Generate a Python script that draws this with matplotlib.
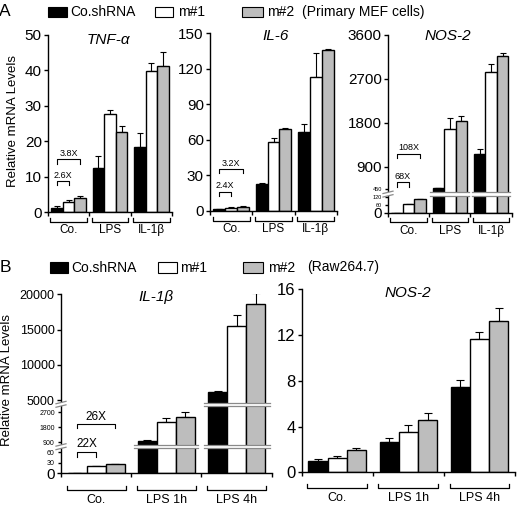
import numpy as np
import matplotlib
matplotlib.use('Agg')
import matplotlib.pyplot as plt
from matplotlib.patches import Rectangle

plt.rcParams['font.family'] = ['Liberation Sans', 'DejaVu Sans']

# ---- data (rows = series, columns = groups) ----
series = ["Co.shRNA", "m#1", "m#2"]
colors = ["black", "white", "#bdbdbd"]

groups_a = ["Co.", "LPS", "IL-1β"]
tnf = [[1.1, 12.4, 18.4], [2.8, 27.8, 39.8], [4.0, 22.5, 41.2]]
tnf_err = [[0.5, 3.4, 4.0], [0.5, 0.9, 2.2], [0.6, 1.7, 4.1]]
il6 = [[1.4, 22.8, 66.4], [2.8, 58.0, 112.9], [3.4, 69.2, 135.9]]
il6_err = [[0.3, 1.1, 6.8], [0.4, 3.9, 20.8], [0.4, 0.8, 0.9]]
nos2_a = [[1, 457, 1154], [68, 1666, 2850], [108, 1830, 3170]]
nos2_a_err = [[0, 12, 108], [0, 225, 150], [0, 110, 55]]

groups_b = ["Co.", "LPS 1h", "LPS 4h"]
il1b = [[1, 1000, 6200], [22, 2136, 15560], [26, 2436, 18630]]
il1b_err = [[0, 20, 120], [0, 200, 1500], [0, 265, 1500]]
nos2_b = [[1.02, 2.65, 7.46], [1.22, 3.56, 11.66], [1.92, 4.55, 13.2]]
nos2_b_err = [[0.12, 0.35, 0.59], [0.18, 0.54, 0.64], [0.18, 0.65, 1.2]]

W, H = 520, 507
fig = plt.figure(figsize=(W / 100, H / 100), dpi=100)


def ftext(x, y, s, **kw):
    fig.text(x / W, 1 - y / H, s, **kw)


def add_ax(x0, x1, ytop, ybot):
    ax = fig.add_axes([x0 / W, 1 - ybot / H, (x1 - x0) / W, (ybot - ytop) / H])
    ax.spines[['top', 'right']].set_visible(False)
    ax.spines[['left', 'bottom']].set_linewidth(1)
    ax.set_xlim(-0.5, 2.5)
    ax.set_xticks([-0.5, 0.5, 1.5, 2.5])
    ax.set_xticklabels([])
    ax.tick_params(direction='out', length=3, width=1, colors='black', pad=1.5)
    return ax


def piecewise(ax, vals, pix):
    v = np.array(vals, float)
    p = np.array(pix, float)
    s0 = (p[1] - p[0]) / (v[1] - v[0])
    s1 = (p[-1] - p[-2]) / (v[-1] - v[-2])
    v = np.concatenate([[v[0] - 1e7], v, [v[-1] + 1e7]])
    p = np.concatenate([[p[0] - 1e7 * s0], p, [p[-1] + 1e7 * s1]])
    ax.set_yscale('function', functions=(lambda y: np.interp(y, v, p),
                                         lambda q: np.interp(q, p, v)))


def bars(ax, data, err, width, cap):
    x = np.arange(len(data[0]))
    for i in range(3):
        xo = x + (i - 1) * width
        ax.bar(xo, data[i], width, color=colors[i], edgecolor='black', linewidth=1, zorder=2)
        ax.errorbar(xo, data[i], yerr=[np.zeros(len(x)), err[i]], fmt='none', ecolor='black',
                    elinewidth=0.8, capsize=cap, capthick=0.8, zorder=1)


def group_labels(ax, labels, drop, text_drop, half, fs):
    h = ax.get_position().height * H
    tr = ax.get_xaxis_transform()
    for i, lab in enumerate(labels):
        y0, y1 = -drop / h, -(drop - 4) / h
        ax.plot([i - half, i - half, i + half, i + half], [y1, y0, y0, y1], transform=tr,
                color='k', lw=0.9, clip_on=False)
        ax.text(i, -text_drop / h, lab, transform=tr, ha='center', va='center', fontsize=fs)


def fold(ax, x0, x1, ytop, ybot, label, fs):
    ax.plot([x0, x0, x1, x1], [ybot, ytop, ytop, ybot], color='k', lw=0.8)
    ax.annotate(label, ((x0 + x1) / 2, ytop), xytext=(0, 1), textcoords='offset points',
                ha='center', va='bottom', fontsize=fs)


def axis_break(ax, frac, spans, gap=3.5):
    h = ax.get_position().height * H
    wpx = ax.get_position().width * W
    g = gap / h
    tr = ax.get_xaxis_transform()
    d = 5 / wpx * 3
    allspans = [(-0.5 - d, -0.5 + d)] + spans
    for k, (a, b) in enumerate(allspans):
        ax.add_patch(Rectangle((a, frac - g / 2), b - a, g, transform=tr, facecolor='white',
                               edgecolor='none', zorder=3, clip_on=False))
        s = 1.2 / h if k == 0 else 0
        for dy in (-g / 2, g / 2):
            ax.plot([a, b], [frac + dy - s, frac + dy + s], transform=tr, color='#8a8a8a',
                    lw=0.9, zorder=4, clip_on=False)


def small_labels(ax, small, fs_big, fs_small):
    for t, lbl in zip(ax.get_yticks(), ax.get_yticklabels()):
        lbl.set_fontsize(fs_small if t in small else fs_big)
    for t, tl in zip(ax.get_yticks(), ax.yaxis.get_major_ticks()):
        if t in small:
            tl.tick1line.set_markersize(2)


wa, wb = 0.28, 0.27

# ---- Panel A ----
ax1 = add_ax(48, 172, 35, 212)
bars(ax1, tnf, tnf_err, wa, 2)
ax1.set_ylim(0, 50)
ax1.set_yticks([0, 10, 20, 30, 40, 50])
ax1.tick_params(axis='y', labelsize=11)
fold(ax1, -wa, wa, 14.9, 13.7, "3.8X", 6.5)
fold(ax1, -wa, 0, 8.7, 7.6, "2.6X", 6.5)
group_labels(ax1, groups_a, 9.7, 18, 0.44, 8.5)

ax2 = add_ax(210, 337, 33.3, 211)
bars(ax2, il6, il6_err, wa, 2)
ax2.set_ylim(0, 150)
ax2.set_yticks([0, 30, 60, 90, 120, 150])
ax2.tick_params(axis='y', labelsize=11)
fold(ax2, -wa, wa, 35.4, 31.8, "3.2X", 6.5)
fold(ax2, -wa, 0, 16.3, 12.6, "2.4X", 6.5)
group_labels(ax2, groups_a, 9.7, 18, 0.44, 8.5)

ax3 = add_ax(388, 511.7, 35, 212.7)
piecewise(ax3, [0, 135, 359, 3600], [0, 17.6, 19.6, 177.7])
bars(ax3, nos2_a, nos2_a_err, wa, 2)
ax3.set_ylim(0, 3600)
ax3.set_yticks([0, 60, 120, 450, 900, 1800, 2700, 3600])
ax3.set_yticklabels(["0", "60", "120", "450", "900", "1800", "2700", "3600"])
small_labels(ax3, [60, 120, 450], 11, 4)
fold(ax3, -wa, wa, 1168, 1084, "108X", 6.5)
fold(ax3, -wa, 0, 580, 490, "68X", 6.5)
axis_break(ax3, 18.6 / 177.7, [(0.53, 1.47), (1.53, 2.47)])
group_labels(ax3, groups_a, 9.7, 18, 0.44, 8.5)

ftext(108.7, 40, "TNF-α", ha='center', va='center', fontsize=11, style='italic')
ftext(276, 36, "IL-6", ha='center', va='center', fontsize=11, style='italic')
ftext(447.5, 36, "NOS-2", ha='center', va='center', fontsize=11, style='italic')
ftext(12.7, 121, "Relative mRNA Levels", rotation=90, ha='center', va='center', fontsize=9.5)
ftext(5, 11, "A", ha='center', va='center', fontsize=12.5)

# ---- Panel B ----
ax4 = add_ax(61, 271.7, 294.3, 473.3)
piecewise(ax4, [0, 72, 720, 3060, 4700, 20000], [0, 25.2, 28, 67, 71, 179])
bars(ax4, il1b, il1b_err, wb, 3)
ax4.set_ylim(0, 20000)
ax4.set_yticks([0, 30, 60, 900, 1800, 2700, 5000, 10000, 15000, 20000])
ax4.set_yticklabels(["0", "30", "60", "900", "1800", "2700", "5000", "10000", "15000", "20000"])
small_labels(ax4, [30, 60, 900, 1800, 2700], 9, 5)
ax4.get_yticklabels()[0].set_fontsize(11)
fold(ax4, -wb, wb, 2000, 1740, "26X", 8.5)
fold(ax4, -wb, 0, 61.7, 47.4, "22X", 8.5)
axis_break(ax4, 26.6 / 179, [(0.545, 1.455), (1.53, 2.47)])
axis_break(ax4, 69 / 179, [(1.53, 2.47)])
group_labels(ax4, groups_b, 17, 27, 0.42, 9)

ax5 = add_ax(301.7, 515, 289.3, 472.3)
bars(ax5, nos2_b, nos2_b_err, wb, 3)
ax5.set_ylim(0, 16)
ax5.set_yticks([0, 4, 8, 12, 16])
ax5.tick_params(axis='y', labelsize=12)
group_labels(ax5, groups_b, 16, 26, 0.42, 9)

ftext(155.5, 296.7, "IL-1β", ha='center', va='center', fontsize=11, style='italic')
ftext(407.5, 293.3, "NOS-2", ha='center', va='center', fontsize=11, style='italic')
ftext(7, 380, "Relative mRNA Levels", rotation=90, ha='center', va='center', fontsize=9.5)
ftext(5, 268, "B", ha='center', va='center', fontsize=12.5)

# ---- legends ----
def legend(boxes, texts, extra, ytop, ybot):
    for (x0, x1), c, (tx, s) in zip(boxes, colors, texts):
        fig.add_artist(Rectangle((x0 / W, 1 - ybot / H), (x1 - x0) / W, (ybot - ytop) / H,
                                 transform=fig.transFigure, facecolor=c, edgecolor='black', lw=0.8))
        ftext(tx, (ytop + ybot) / 2, s, ha='left', va='center', fontsize=10)
    ftext(extra[0], (ytop + ybot) / 2, extra[1], ha='left', va='center', fontsize=10)


legend([(47.7, 66.7), (155, 172.7), (241.7, 262.7)],
       [(70, series[0]), (178, series[1]), (266.7, series[2])],
       (301.7, "(Primary MEF cells)"), 6.7, 16.7)
legend([(50, 68.3), (157.7, 176.7), (243.3, 263.3)],
       [(71.7, series[0]), (180, series[1]), (268.3, series[2])],
       (306.7, "(Raw264.7)"), 261.7, 273.3)

fig.savefig("out.png", dpi=100)
